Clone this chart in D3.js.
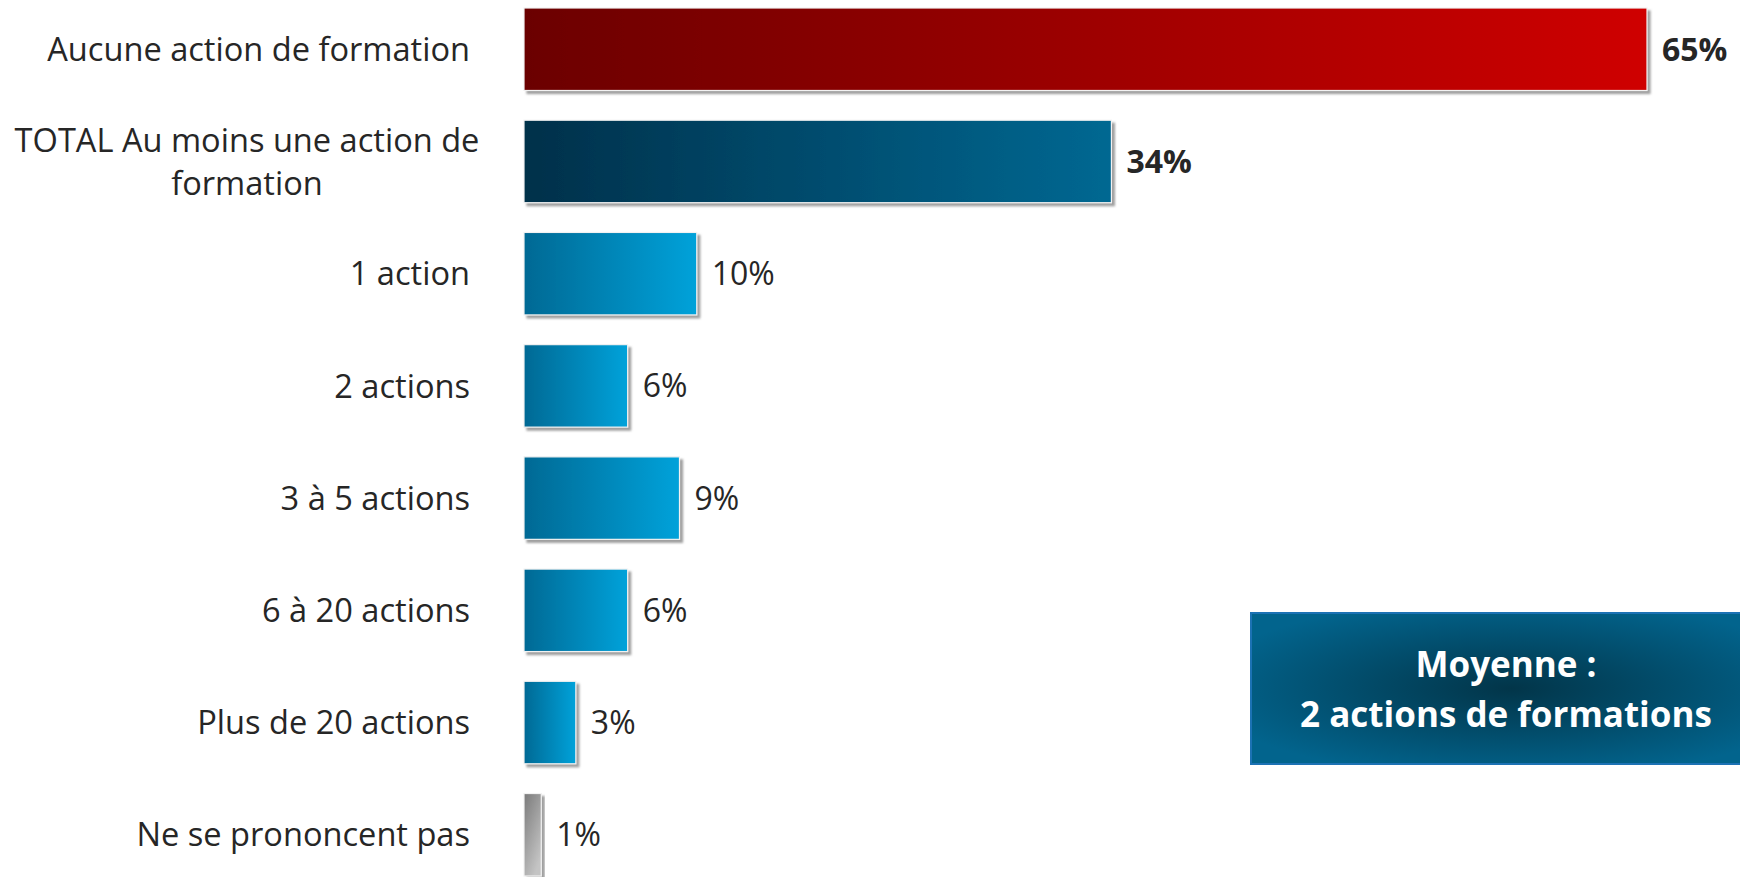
<!DOCTYPE html>
<html>
<head>
<meta charset="utf-8">
<script src="https://cdn.jsdelivr.net/npm/d3@7"></script>
<style>
  html, body { margin: 0; padding: 0; background: #fff; overflow: hidden; }
  svg { display: block; font-family: "Open Sans", sans-serif; }
</style>
</head>
<body>
<svg id="chart" width="1740" height="877"></svg>
<script>
// Nombre d'actions de formation suivies
const categories = [
  "Aucune action de formation",
  "TOTAL Au moins une action de formation",
  "1 action",
  "2 actions",
  "3 à 5 actions",
  "6 à 20 actions",
  "Plus de 20 actions",
  "Ne se prononcent pas"
];
const values = [65, 34, 10, 6, 9, 6, 3, 1];
const groups = ["aucune", "total", "detail", "detail", "detail", "detail", "detail", "nsp"];
const valueLabels = ["65%", "34%", "10%", "6%", "9%", "6%", "3%", "1%"];
const calloutLines = ["Moyenne :", "2 actions de formations"];

const data = categories.map((c, i) => ({ cat: c, value: values[i], group: groups[i], label: valueLabels[i] }));

const svg = d3.select("#chart");
const defs = svg.append("defs");

// Horizontal gradients per group
const gradients = {
  aucune: ["#6b0000", "#cf0000"],
  total:  ["#02304a", "#016892"],
  detail: ["#006994", "#00a2da"]
};
Object.entries(gradients).forEach(([k, [c0, c1]]) => {
  const g = defs.append("linearGradient").attr("id", "grad-" + k)
    .attr("x1", "0%").attr("x2", "100%").attr("y1", "0%").attr("y2", "0%");
  g.append("stop").attr("offset", "0%").attr("stop-color", c0);
  g.append("stop").attr("offset", "100%").attr("stop-color", c1);
});
const gGray = defs.append("linearGradient").attr("id", "grad-nsp")
  .attr("x1", "0%").attr("x2", "60%").attr("y1", "0%").attr("y2", "100%");
gGray.append("stop").attr("offset", "0%").attr("stop-color", "#7a7a7a");
gGray.append("stop").attr("offset", "100%").attr("stop-color", "#c4c4c4");

// Callout background
const rg = defs.append("radialGradient").attr("id", "grad-callout")
  .attr("cx", "50%").attr("cy", "50%").attr("r", "60%");
rg.append("stop").attr("offset", "0%").attr("stop-color", "#023549");
rg.append("stop").attr("offset", "100%").attr("stop-color", "#02648d");

// Soft shadow under bars
const f = defs.append("filter").attr("id", "shadow")
  .attr("x", "-10%").attr("y", "-10%").attr("width", "130%").attr("height", "130%");
f.append("feDropShadow").attr("dx", 3).attr("dy", 3).attr("stdDeviation", 1.2)
  .attr("flood-color", "#808080").attr("flood-opacity", 0.75);

const x = d3.scaleLinear().domain([0, d3.max(values)]).range([524, 1647]);
const y = d3.scaleBand().domain(categories).range([8, 876])
  .paddingInner(0.265).paddingOuter(0);

// Bars
svg.append("g").selectAll("rect").data(data).join("rect")
  .attr("x", x(0))
  .attr("y", d => y(d.cat))
  .attr("width", d => x(d.value) - x(0))
  .attr("height", y.bandwidth())
  .attr("fill", d => `url(#grad-${d.group})`)
  .attr("stroke", "#f2f2f2")
  .attr("stroke-width", 1.2)
  .attr("filter", "url(#shadow)");

// Value labels
svg.append("g").selectAll("text").data(data).join("text")
  .attr("x", d => x(d.value) + 15)
  .attr("y", d => y(d.cat) + y.bandwidth() / 2)
  .attr("dy", "0.36em")
  .attr("font-size", 32)
  .attr("font-weight", d => (d.group === "aucune" || d.group === "total") ? 700 : 400)
  .attr("fill", "#262626")
  .text(d => d.label);

// Category labels (wrapped when too long)
const maxLabelWidth = 455;
const labelG = svg.append("g");
data.forEach(d => {
  const cy = y(d.cat) + y.bandwidth() / 2;
  const t = labelG.append("text")
    .attr("font-size", 32.6).attr("fill", "#262626");
  t.text(d.cat);
  if (t.node().getComputedTextLength() <= maxLabelWidth) {
    t.attr("x", 470).attr("y", cy).attr("dy", "0.36em").attr("text-anchor", "end");
    return;
  }
  // split into lines that fit
  const words = d.cat.split(" ");
  const lines = [];
  let line = [];
  words.forEach(w => {
    line.push(w);
    t.text(line.join(" "));
    if (t.node().getComputedTextLength() > 475 && line.length > 1) {
      line.pop();
      lines.push(line.join(" "));
      line = [w];
    }
  });
  lines.push(line.join(" "));
  t.text(null).attr("text-anchor", "middle");
  const lh = 43;
  lines.forEach((l, i) => {
    t.append("tspan")
      .attr("x", 247)
      .attr("y", cy + (i - (lines.length - 1) / 2) * lh)
      .attr("dy", "0.36em")
      .text(l);
  });
});

// Callout box with the average
const box = svg.append("g");
box.append("rect")
  .attr("x", 1251).attr("y", 613).attr("width", 520).attr("height", 151)
  .attr("fill", "url(#grad-callout)")
  .attr("stroke", "#1c72b4").attr("stroke-width", 2);
box.selectAll("text").data(calloutLines).join("text")
  .attr("x", 1506)
  .attr("y", (d, i) => 677 + i * 50)
  .attr("text-anchor", "middle")
  .attr("font-size", 35)
  .attr("font-weight", 700)
  .attr("fill", "#ffffff")
  .text(d => d);
</script>
</body>
</html>
